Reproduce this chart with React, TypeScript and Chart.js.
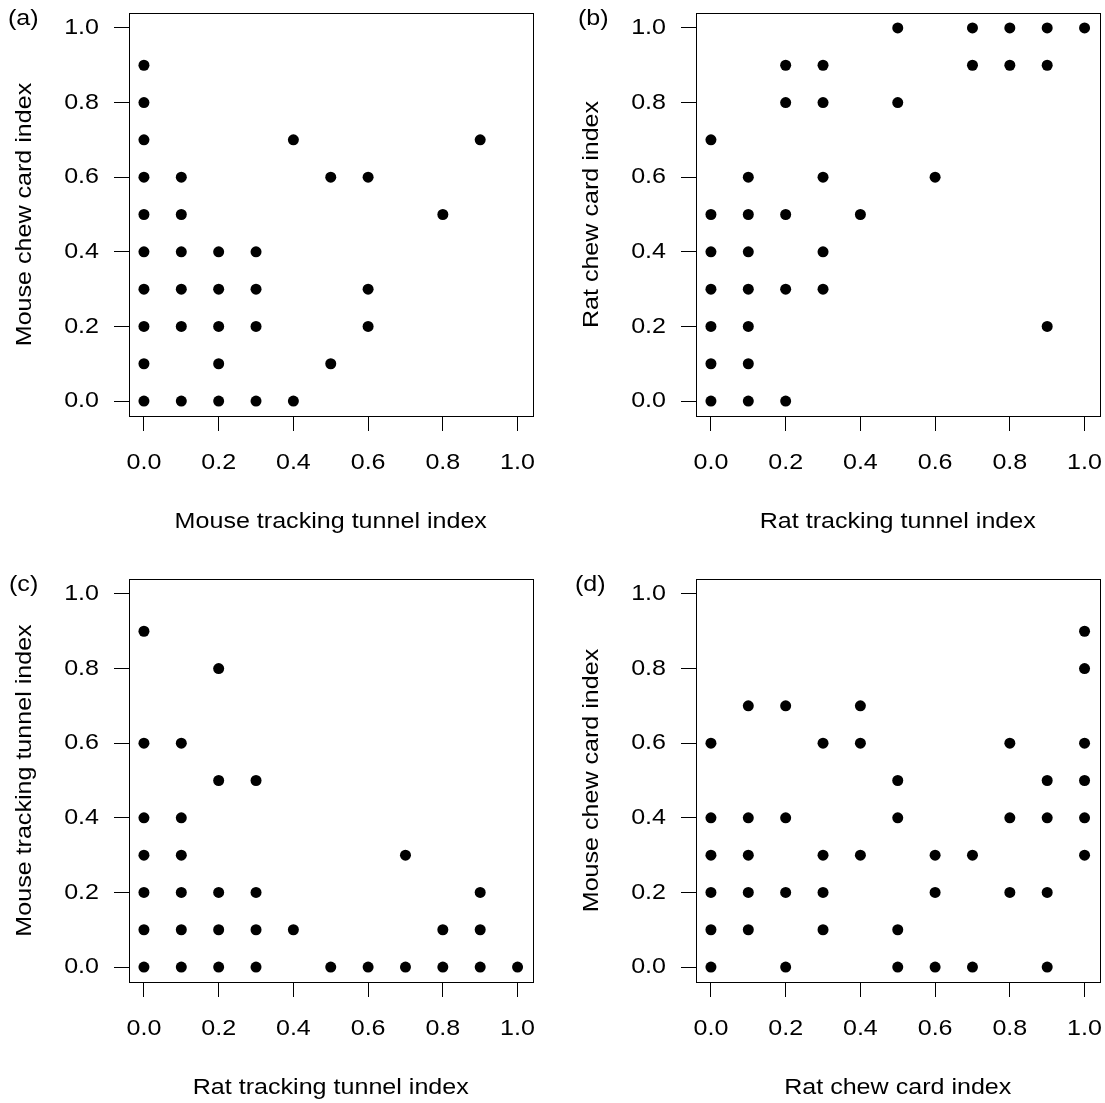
import React, { useEffect, useRef } from "react";
import { Chart, registerables } from "chart.js";

Chart.register(...registerables);

const tickValues = [0, 0.2, 0.4, 0.6, 0.8, 1.0];
const panelLabels = ["(a)", "(b)", "(c)", "(d)"];
const xTitles = [
  "Mouse tracking tunnel index",
  "Rat tracking tunnel index",
  "Rat tracking tunnel index",
  "Rat chew card index",
];
const yTitles = [
  "Mouse chew card index",
  "Rat chew card index",
  "Mouse tracking tunnel index",
  "Mouse chew card index",
];

// (a) Mouse tracking tunnel index vs Mouse chew card index
const pointsA: [number, number][] = [
  [0, 0], [0, 0.1], [0, 0.2], [0, 0.3], [0, 0.4], [0, 0.5], [0, 0.6], [0, 0.7], [0, 0.8], [0, 0.9],
  [0.1, 0], [0.1, 0.2], [0.1, 0.3], [0.1, 0.4], [0.1, 0.5], [0.1, 0.6],
  [0.2, 0], [0.2, 0.1], [0.2, 0.2], [0.2, 0.3], [0.2, 0.4],
  [0.3, 0], [0.3, 0.2], [0.3, 0.3], [0.3, 0.4],
  [0.4, 0], [0.4, 0.7],
  [0.5, 0.1], [0.5, 0.6],
  [0.6, 0.2], [0.6, 0.3], [0.6, 0.6],
  [0.8, 0.5],
  [0.9, 0.7],
];

// (b) Rat tracking tunnel index vs Rat chew card index
const pointsB: [number, number][] = [
  [0, 0], [0, 0.1], [0, 0.2], [0, 0.3], [0, 0.4], [0, 0.5], [0, 0.7],
  [0.1, 0], [0.1, 0.1], [0.1, 0.2], [0.1, 0.3], [0.1, 0.4], [0.1, 0.5], [0.1, 0.6],
  [0.2, 0], [0.2, 0.3], [0.2, 0.5], [0.2, 0.8], [0.2, 0.9],
  [0.3, 0.3], [0.3, 0.4], [0.3, 0.6], [0.3, 0.8], [0.3, 0.9],
  [0.4, 0.5],
  [0.5, 0.8], [0.5, 1.0],
  [0.6, 0.6],
  [0.7, 0.9], [0.7, 1.0],
  [0.8, 0.9], [0.8, 1.0],
  [0.9, 0.2], [0.9, 0.9], [0.9, 1.0],
  [1.0, 1.0],
];

// (c) Rat tracking tunnel index vs Mouse tracking tunnel index
const pointsC: [number, number][] = [
  [0, 0], [0, 0.1], [0, 0.2], [0, 0.3], [0, 0.4], [0, 0.6], [0, 0.9],
  [0.1, 0], [0.1, 0.1], [0.1, 0.2], [0.1, 0.3], [0.1, 0.4], [0.1, 0.6],
  [0.2, 0], [0.2, 0.1], [0.2, 0.2], [0.2, 0.5], [0.2, 0.8],
  [0.3, 0], [0.3, 0.1], [0.3, 0.2], [0.3, 0.5],
  [0.4, 0.1],
  [0.5, 0],
  [0.6, 0],
  [0.7, 0], [0.7, 0.3],
  [0.8, 0], [0.8, 0.1],
  [0.9, 0], [0.9, 0.1], [0.9, 0.2],
  [1.0, 0],
];

// (d) Rat chew card index vs Mouse chew card index
const pointsD: [number, number][] = [
  [0, 0], [0, 0.1], [0, 0.2], [0, 0.3], [0, 0.4], [0, 0.6],
  [0.1, 0.1], [0.1, 0.2], [0.1, 0.3], [0.1, 0.4], [0.1, 0.7],
  [0.2, 0], [0.2, 0.2], [0.2, 0.4], [0.2, 0.7],
  [0.3, 0.1], [0.3, 0.2], [0.3, 0.3], [0.3, 0.6],
  [0.4, 0.3], [0.4, 0.6], [0.4, 0.7],
  [0.5, 0], [0.5, 0.1], [0.5, 0.4], [0.5, 0.5],
  [0.6, 0], [0.6, 0.2], [0.6, 0.3],
  [0.7, 0], [0.7, 0.3],
  [0.8, 0.2], [0.8, 0.4], [0.8, 0.6],
  [0.9, 0], [0.9, 0.2], [0.9, 0.4], [0.9, 0.5],
  [1.0, 0.3], [1.0, 0.4], [1.0, 0.5], [1.0, 0.6], [1.0, 0.8], [1.0, 0.9],
];

const allPoints = [pointsA, pointsB, pointsC, pointsD];

const FONT_FAMILY = '"Liberation Sans", Arial, Helvetica, sans-serif';
const font = { family: FONT_FAMILY, size: 22, lineHeight: 1.2 };
const TEXT_STRETCH = 1.14;

const CANVAS_W = 538;
const CANVAS_H = 537;
const panelPos = [
  { left: 0, top: 0, labelX: 8 },
  { left: 567, top: 0, labelX: 11 },
  { left: 0, top: 566, labelX: 9 },
  { left: 567, top: 566, labelX: 8 },
];

function makeBoxPlugin(label: string, labelX: number) {
  return {
    id: "boxAndLabel",
    afterDraw(chart: any) {
      const { ctx, chartArea } = chart;
      ctx.save();
      ctx.strokeStyle = "#000";
      ctx.lineWidth = 1;
      const l = Math.round(chartArea.left) + 0.5;
      const t = Math.round(chartArea.top) + 0.5;
      const r = Math.round(chartArea.right) + 0.5;
      const b = Math.round(chartArea.bottom) + 0.5;
      ctx.strokeRect(l, t, r - l, b - t);
      ctx.fillStyle = "#000";
      ctx.font = `22px ${FONT_FAMILY}`;
      ctx.textAlign = "left";
      ctx.textBaseline = "alphabetic";
      ctx.fillText(label, labelX, 25);
      ctx.restore();
    },
  };
}

function Panel({ index }: { index: number }) {
  const ref = useRef<HTMLCanvasElement>(null);
  const pos = panelPos[index];
  useEffect(() => {
    if (!ref.current) return;
    // widen glyphs horizontally to match the reference's wide sans face
    const c2d = ref.current.getContext("2d") as any;
    if (c2d && !c2d.__stretched) {
      const orig = c2d.fillText.bind(c2d);
      c2d.fillText = (text: string, x: number, y: number) => {
        c2d.save();
        c2d.translate(x, y);
        c2d.scale(TEXT_STRETCH, 1);
        orig(text, 0, 0);
        c2d.restore();
      };
      c2d.__stretched = true;
    }
    const pts = allPoints[index];
    const chart = new Chart(ref.current, {
      type: "scatter",
      data: {
        datasets: [
          {
            data: pts.map(([x, y]) => ({ x, y })),
            backgroundColor: "#000",
            borderColor: "#000",
            borderWidth: 0,
            pointRadius: 5.5,
            pointHoverRadius: 5.5,
          },
        ],
      },
      options: {
        responsive: false,
        animation: false,
        events: [],
        devicePixelRatio: 1,
        layout: { padding: { top: 13, right: 5, left: 0, bottom: 0 } },
        plugins: {
          legend: { display: false },
          tooltip: { enabled: false },
        },
        scales: {
          x: {
            type: "linear",
            min: -0.04,
            max: 1.04,
            afterBuildTicks: (s: any) => {
              s.ticks = tickValues.map((v) => ({ value: v }));
            },
            afterFit: (s: any) => {
              s.height = 121;
              s.paddingLeft = 0;
              s.paddingRight = 0;
            },
            ticks: {
              callback: (v: any) => Number(v).toFixed(1),
              font,
              color: "#000",
              padding: 19,
              maxRotation: 0,
              autoSkip: false,
            },
            grid: {
              display: true,
              drawOnChartArea: false,
              drawTicks: true,
              tickLength: 15,
              color: "#000",
              lineWidth: 1,
            },
            border: { display: false },
            title: {
              display: true,
              text: xTitles[index],
              font,
              color: "#000",
              padding: { top: 0, bottom: 2 },
            },
          },
          y: {
            type: "linear",
            min: -0.04,
            max: 1.04,
            afterBuildTicks: (s: any) => {
              s.ticks = tickValues.map((v) => ({ value: v }));
            },
            afterFit: (s: any) => {
              s.width = 129;
              s.paddingTop = 0;
              s.paddingBottom = 0;
            },
            ticks: {
              callback: (v: any) => Number(v).toFixed(1),
              font,
              color: "#000",
              padding: 15,
              autoSkip: false,
            },
            grid: {
              display: true,
              drawOnChartArea: false,
              drawTicks: true,
              tickLength: 15,
              color: "#000",
              lineWidth: 1,
            },
            border: { display: false },
            title: {
              display: true,
              text: yTitles[index],
              font,
              color: "#000",
              padding: { top: 12, bottom: 0 },
            },
          },
        },
      } as any,
      plugins: [makeBoxPlugin(panelLabels[index], pos.labelX)],
    });
    return () => chart.destroy();
  }, [index]);
  return (
    <canvas
      ref={ref}
      width={CANVAS_W}
      height={CANVAS_H}
      style={{
        position: "absolute",
        left: pos.left,
        top: pos.top,
        width: CANVAS_W,
        height: CANVAS_H,
      }}
    />
  );
}

export default function App() {
  return (
    <div
      style={{
        position: "absolute",
        left: 0,
        top: 0,
        width: 1105,
        height: 1103,
        background: "#fff",
        overflow: "hidden",
      }}
    >
      {[0, 1, 2, 3].map((i) => (
        <Panel key={i} index={i} />
      ))}
    </div>
  );
}
